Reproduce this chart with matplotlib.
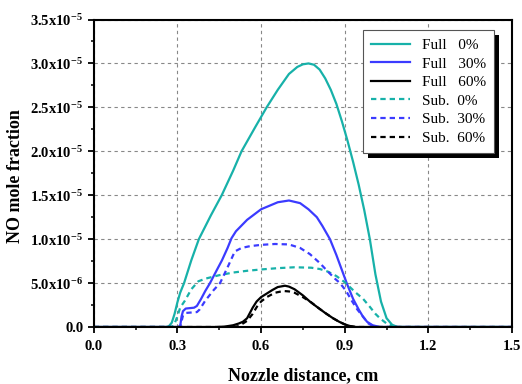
import matplotlib
matplotlib.use("Agg")
import matplotlib.pyplot as plt
from matplotlib.patches import Rectangle
from matplotlib.ticker import FixedLocator, MultipleLocator

plt.rcParams['font.family'] = ['Liberation Serif', 'DejaVu Serif']
plt.rcParams['mathtext.fontset'] = 'custom'
plt.rcParams['mathtext.rm'] = 'Liberation Serif:bold'
plt.rcParams['mathtext.bf'] = 'Liberation Serif:bold'
plt.rcParams['mathtext.default'] = 'bf'

# --- data (NO mole fraction, units of 1e-6) ---
full0_x = [0.0, 0.26, 0.27, 0.28, 0.29, 0.30, 0.31, 0.324, 0.35, 0.377, 0.42, 0.459, 0.50, 0.53,
           0.58, 0.62, 0.66, 0.70, 0.73, 0.75, 0.77, 0.79, 0.81, 0.83, 0.85, 0.87, 0.89, 0.91,
           0.93, 0.95, 0.97, 0.99, 1.01, 1.03, 1.05, 1.07, 1.09, 1.5]
full0_y = [0.0, 0.0, 0.1, 0.5, 1.5, 2.8, 3.9, 5.0, 7.6, 10.0, 12.7, 15.0, 17.8, 20.0,
           22.8, 25.0, 27.0, 28.8, 29.6, 29.9, 30.0, 29.85, 29.3, 28.3, 27.0, 25.4, 23.4, 21.2,
           18.8, 16.2, 13.3, 10.0, 6.0, 2.9, 1.0, 0.25, 0.0, 0.0]

full30_x = [0.0, 0.30, 0.31, 0.315, 0.32, 0.33, 0.36, 0.37, 0.385, 0.40, 0.417, 0.44, 0.46, 0.48,
            0.494, 0.51, 0.55, 0.60, 0.66, 0.70, 0.74, 0.77, 0.80, 0.82, 0.847, 0.87, 0.907,
            0.93, 0.95, 0.965, 0.98, 1.0, 1.026, 1.5]
full30_y = [0.0, 0.0, 0.1, 1.2, 1.8, 2.1, 2.2, 2.4, 3.2, 4.1, 5.0, 6.4, 7.6, 9.0,
            10.1, 10.9, 12.2, 13.4, 14.2, 14.4, 14.1, 13.4, 12.5, 11.5, 10.0, 8.2, 5.0,
            3.2, 2.0, 1.2, 0.6, 0.2, 0.0, 0.0]

full60_x = [0.0, 0.44, 0.47, 0.50, 0.52, 0.535, 0.55, 0.56, 0.57, 0.584, 0.60, 0.62, 0.64, 0.66,
            0.686, 0.70, 0.72, 0.75, 0.775, 0.80, 0.83, 0.858, 0.88, 0.90, 0.92, 0.94, 1.5]
full60_y = [0.0, 0.0, 0.05, 0.2, 0.4, 0.6, 1.0, 1.6, 2.2, 2.9, 3.4, 3.8, 4.2, 4.55,
            4.7, 4.6, 4.3, 3.6, 2.9, 2.3, 1.6, 1.0, 0.6, 0.3, 0.1, 0.0, 0.0]

sub0_x = [0.0, 0.28, 0.29, 0.30, 0.31, 0.327, 0.35, 0.375, 0.40, 0.45, 0.50, 0.55, 0.60, 0.66,
          0.72, 0.78, 0.811, 0.84, 0.87, 0.90, 0.92, 0.94, 0.966, 0.99, 1.01, 1.026, 1.05,
          1.08, 1.5]
sub0_y = [0.0, 0.0, 0.4, 1.2, 2.2, 3.0, 4.3, 5.2, 5.5, 5.9, 6.2, 6.4, 6.55, 6.7,
          6.8, 6.75, 6.6, 6.3, 5.8, 5.1, 4.5, 3.9, 3.2, 2.3, 1.5, 1.0, 0.4,
          0.0, 0.0]

sub30_x = [0.0, 0.31, 0.32, 0.33, 0.37, 0.38, 0.40, 0.43, 0.453, 0.48, 0.506, 0.53, 0.56, 0.60,
           0.65, 0.70, 0.74, 0.775, 0.81, 0.84, 0.865, 0.883, 0.905, 0.925, 0.945, 0.965,
           0.985, 1.008, 1.5]
sub30_y = [0.0, 0.0, 1.3, 1.6, 1.7, 2.0, 3.0, 4.2, 5.0, 6.8, 8.6, 9.0, 9.2, 9.35,
           9.45, 9.4, 9.0, 8.3, 7.3, 6.3, 5.5, 5.0, 4.1, 3.0, 2.0, 1.2,
           0.4, 0.0, 0.0]

sub60_x = [0.0, 0.50, 0.52, 0.55, 0.57, 0.585, 0.60, 0.62, 0.65, 0.68, 0.70, 0.72, 0.75, 0.78,
           0.80, 0.83, 0.858, 0.88, 0.90, 0.92, 0.94, 1.5]
sub60_y = [0.0, 0.0, 0.1, 0.7, 1.5, 2.3, 2.9, 3.4, 3.9, 4.1, 4.05, 3.9, 3.4, 2.8,
           2.3, 1.6, 1.0, 0.6, 0.3, 0.1, 0.0, 0.0]

labels = ['Full   0%', 'Full   30%', 'Full   60%', 'Sub.  0%', 'Sub.  30%', 'Sub.  60%']

y_ticks = [0.0, 5e-6, 1e-5, 1.5e-5, 2e-5, 2.5e-5, 3e-5, 3.5e-5]
y_ticklabels = ['0.0', '5.0x10$^{-6}$', '1.0x10$^{-5}$', '1.5x10$^{-5}$', '2.0x10$^{-5}$',
                '2.5x10$^{-5}$', '3.0x10$^{-5}$', '3.5x10$^{-5}$']
x_ticks = [0.0, 0.3, 0.6, 0.9, 1.2, 1.5]

# --- plot ---
teal = '#17b1a9'
blue = '#3b3bff'
dash = (2.4, 1.8)

fig = plt.figure(figsize=(5.22, 3.84), dpi=100)
ax = fig.add_axes([0.1795, 0.1484, 0.8015, 0.8008])

series = [
    (full0_x, full0_y, teal, '-'),
    (full30_x, full30_y, blue, '-'),
    (full60_x, full60_y, 'black', '-'),
    (sub0_x, sub0_y, teal, '--'),
    (sub30_x, sub30_y, blue, '--'),
    (sub60_x, sub60_y, 'black', '--'),
]
for (xs, ys, c, ls), lab in zip(series, labels):
    line, = ax.plot(xs, [v * 1e-6 for v in ys], color=c, lw=1.6, ls=ls, label=lab)
    if ls == '--':
        line.set_dashes(dash)

ax.set_xlim(0, 1.5)
ax.set_ylim(0, 3.5e-5)
ax.xaxis.set_major_locator(FixedLocator(x_ticks))
ax.xaxis.set_minor_locator(MultipleLocator(0.15))
ax.set_xticklabels(['%.1f' % t for t in x_ticks])
ax.yaxis.set_major_locator(FixedLocator(y_ticks))
ax.yaxis.set_minor_locator(MultipleLocator(2.5e-6))
ax.set_yticklabels(y_ticklabels)

for lbl in ax.get_xticklabels() + ax.get_yticklabels():
    lbl.set_fontweight('bold')
    lbl.set_fontsize(10.5)

ax.tick_params(which='major', direction='out', length=4.5, width=1.3, pad=3)
ax.tick_params(which='minor', direction='out', length=2.5, width=1.1)
ax.tick_params(axis='x', which='major', pad=5)
for sp in ax.spines.values():
    sp.set_linewidth(1.5)

ax.grid(True, which='major', color='#888888', ls=(0, (3, 3)), lw=0.8)
ax.set_axisbelow(True)

ax.set_xlabel('Nozzle distance, cm', fontsize=13, fontweight='bold')
ax.set_ylabel('NO mole fraction', fontsize=13, fontweight='bold')
ax.xaxis.set_label_coords(0.5, -0.13)
ax.yaxis.set_label_coords(-0.166, 0.49)

leg = ax.legend(loc='upper right', bbox_to_anchor=(0.9577, 0.9659), borderaxespad=0,
                fontsize=11, fancybox=False, framealpha=1, edgecolor='#555555',
                handlelength=2.5, handletextpad=0.8, labelspacing=0.32, borderpad=0.55)
leg.get_frame().set_linewidth(0.8)
for h in leg.get_lines():
    if h.get_linestyle() == '--':
        h.set_dashes(dash)

# solid black shadow behind the legend box
fig.canvas.draw()
bb = leg.get_window_extent()
inv = ax.transAxes.inverted()
(x0, y0) = inv.transform((bb.x0 + 5, bb.y0 - 5))
(x1, y1) = inv.transform((bb.x1 + 5, bb.y1 - 5))
ax.add_patch(Rectangle((x0, y0), x1 - x0, y1 - y0, transform=ax.transAxes,
                       facecolor='black', edgecolor='none', zorder=4.9, clip_on=False))

fig.savefig('out.png', dpi=100)
